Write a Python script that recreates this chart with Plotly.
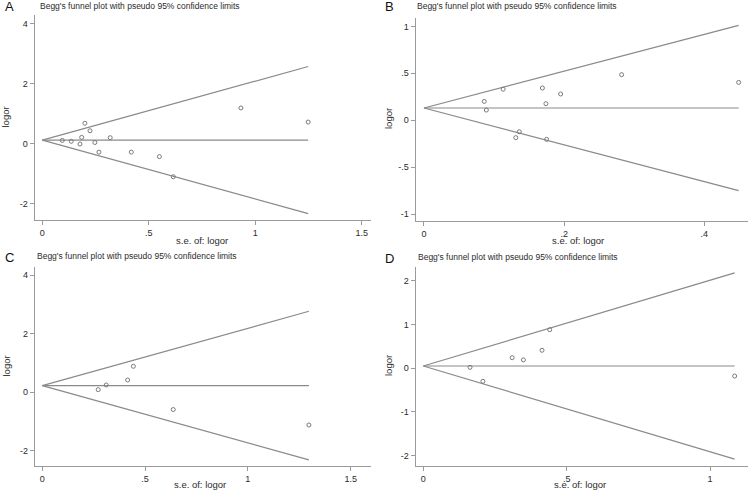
import plotly.graph_objects as go

# ---------------- data ----------------
title_text = "Begg's funnel plot with pseudo 95% confidence limits"
panel_letters = ["A", "B", "C", "D"]

se_A = [0.094, 0.136, 0.177, 0.185, 0.200, 0.224, 0.247, 0.266, 0.319, 0.418, 0.550, 0.615, 0.933, 1.249]
logor_A = [0.11, 0.08, -0.01, 0.21, 0.68, 0.43, 0.04, -0.28, 0.20, -0.28, -0.43, -1.10, 1.19, 0.72]
pooled_A = 0.12

se_B = [0.086, 0.089, 0.113, 0.131, 0.136, 0.169, 0.174, 0.175, 0.195, 0.282, 0.449]
logor_B = [0.20, 0.108, 0.33, -0.186, -0.123, 0.343, 0.176, -0.204, 0.279, 0.485, 0.403]
pooled_B = 0.13

se_C = [0.272, 0.311, 0.415, 0.443, 0.637, 1.297]
logor_C = [0.08, 0.24, 0.41, 0.88, -0.60, -1.13]
pooled_C = 0.22

se_D = [0.163, 0.208, 0.310, 0.349, 0.414, 0.441, 1.086]
logor_D = [0.02, -0.30, 0.24, 0.19, 0.41, 0.88, -0.18]
pooled_D = 0.05

xtick_vals_A = [0, 0.5, 1, 1.5]
xtick_text_A = ["0", ".5", "1", "1.5"]
ytick_vals_A = [-2, 0, 2, 4]
ytick_text_A = ["-2", "0", "2", "4"]

xtick_vals_B = [0, 0.2, 0.4]
xtick_text_B = ["0", ".2", ".4"]
ytick_vals_B = [-1, -0.5, 0, 0.5, 1]
ytick_text_B = ["-1", "-.5", "0", ".5", "1"]

xtick_vals_C = [0, 0.5, 1, 1.5]
xtick_text_C = ["0", ".5", "1", "1.5"]
ytick_vals_C = [-2, 0, 2, 4]
ytick_text_C = ["-2", "0", "2", "4"]

xtick_vals_D = [0, 0.5, 1]
xtick_text_D = ["0", ".5", "1"]
ytick_vals_D = [-2, -1, 0, 1, 2]
ytick_text_D = ["-2", "-1", "0", "1", "2"]

# ---------------- layout geometry ----------------
W, H = 750, 490
panels = [
    dict(se=se_A, y=logor_A, pooled=pooled_A, xt=(xtick_vals_A, xtick_text_A), yt=(ytick_vals_A, ytick_text_A),
         px=(34.7, 371), py=(15, 220), xr=(-0.0357, 1.544), yr=(-2.539, 4.283),
         letter=(3, 7), title=(38, 6), ylab=(5, 117.5), xlab=(202, 240.5)),
    dict(se=se_B, y=logor_B, pooled=pooled_B, xt=(xtick_vals_B, xtick_text_B), yt=(ytick_vals_B, ytick_text_B),
         px=(415.7, 748), py=(18, 220.7), xr=(-0.0118, 0.4623), yr=(-1.071, 1.089),
         letter=(383, 7), title=(415, 6), ylab=(388, 119), xlab=(578, 240.5)),
    dict(se=se_C, y=logor_C, pooled=pooled_C, xt=(xtick_vals_C, xtick_text_C), yt=(ytick_vals_C, ytick_text_C),
         px=(35, 371), py=(266.7, 465.7), xr=(-0.0355, 1.599), yr=(-2.522, 4.288),
         letter=(3, 257), title=(35, 256), ylab=(5.5, 366), xlab=(200, 484.5)),
    dict(se=se_D, y=logor_D, pooled=pooled_D, xt=(xtick_vals_D, xtick_text_D), yt=(ytick_vals_D, ytick_text_D),
         px=(415.7, 748), py=(266.7, 465.7), xr=(-0.0265, 1.1325), yr=(-2.229, 2.32),
         letter=(383, 258), title=(415.7, 257), ylab=(388, 366), xlab=(580, 484.5)),
]

FONT = "Liberation Sans, Arial, sans-serif"
LINE_COL = "#8a8a8a"
AXIS_COL = "#9a9a9a"
TEXT_COL = "#2b2b2b"

fig = go.Figure()
annotations = []

for i, p in enumerate(panels):
    n = "" if i == 0 else str(i + 1)
    xa, ya = "x" + n, "y" + n
    se_max = max(p["se"])
    pooled = p["pooled"]
    # funnel limits and pooled line
    fig.add_trace(go.Scatter(x=[0, se_max], y=[pooled, pooled + 1.96 * se_max], mode="lines",
                             line=dict(color=LINE_COL, width=1.2), xaxis=xa, yaxis=ya, showlegend=False,
                             hoverinfo="skip"))
    fig.add_trace(go.Scatter(x=[0, se_max], y=[pooled, pooled - 1.96 * se_max], mode="lines",
                             line=dict(color=LINE_COL, width=1.2), xaxis=xa, yaxis=ya, showlegend=False,
                             hoverinfo="skip"))
    fig.add_trace(go.Scatter(x=[0, se_max], y=[pooled, pooled], mode="lines",
                             line=dict(color=LINE_COL, width=1.2), xaxis=xa, yaxis=ya, showlegend=False,
                             hoverinfo="skip"))
    fig.add_trace(go.Scatter(x=p["se"], y=p["y"], mode="markers",
                             marker=dict(symbol="circle-open", size=4, color="#7a7a7a", line=dict(width=1)),
                             xaxis=xa, yaxis=ya, showlegend=False))

    x0, x1 = p["px"]
    y0, y1 = p["py"]
    axis_common = dict(showgrid=False, zeroline=False, showline=True, linecolor=AXIS_COL, linewidth=1.2,
                       ticks="outside", ticklen=4, tickcolor=AXIS_COL, tickwidth=1,
                       tickfont=dict(family=FONT, size=9, color=TEXT_COL), fixedrange=True)
    fig.update_layout(**{
        ("xaxis" + n): dict(domain=[x0 / W, x1 / W], range=list(p["xr"]), anchor=ya,
                            tickmode="array", tickvals=p["xt"][0], ticktext=p["xt"][1], **axis_common),
        ("yaxis" + n): dict(domain=[1 - y1 / H, 1 - y0 / H], range=list(p["yr"]), anchor=xa,
                            tickmode="array", tickvals=p["yt"][0], ticktext=p["yt"][1], **axis_common),
    })

    lx, ly = p["letter"]
    annotations.append(dict(text=panel_letters[i], x=lx / W, y=1 - ly / H, xref="paper", yref="paper",
                            xanchor="left", yanchor="middle", showarrow=False,
                            font=dict(family=FONT, size=13, color="#111")))
    tx, ty = p["title"]
    annotations.append(dict(text=title_text, x=tx / W, y=1 - ty / H, xref="paper", yref="paper",
                            xanchor="left", yanchor="middle", showarrow=False,
                            font=dict(family=FONT, size=8.5, color=TEXT_COL)))
    yx, yy = p["ylab"]
    annotations.append(dict(text="logor", x=yx / W, y=1 - yy / H, xref="paper", yref="paper",
                            xanchor="center", yanchor="middle", textangle=-90, showarrow=False,
                            font=dict(family=FONT, size=9.5, color=TEXT_COL)))
    xx, xy = p["xlab"]
    annotations.append(dict(text="s.e. of: logor", x=xx / W, y=1 - xy / H, xref="paper", yref="paper",
                            xanchor="center", yanchor="middle", showarrow=False,
                            font=dict(family=FONT, size=9.5, color=TEXT_COL)))

fig.update_layout(width=W, height=H, margin=dict(l=0, r=0, t=0, b=0),
                  paper_bgcolor="white", plot_bgcolor="white", annotations=annotations,
                  font=dict(family=FONT, color=TEXT_COL))

fig.write_html("out.html", config={"displayModeBar": False, "staticPlot": True},
               post_script="document.body.style.margin='0px';document.body.style.overflow='hidden';")
